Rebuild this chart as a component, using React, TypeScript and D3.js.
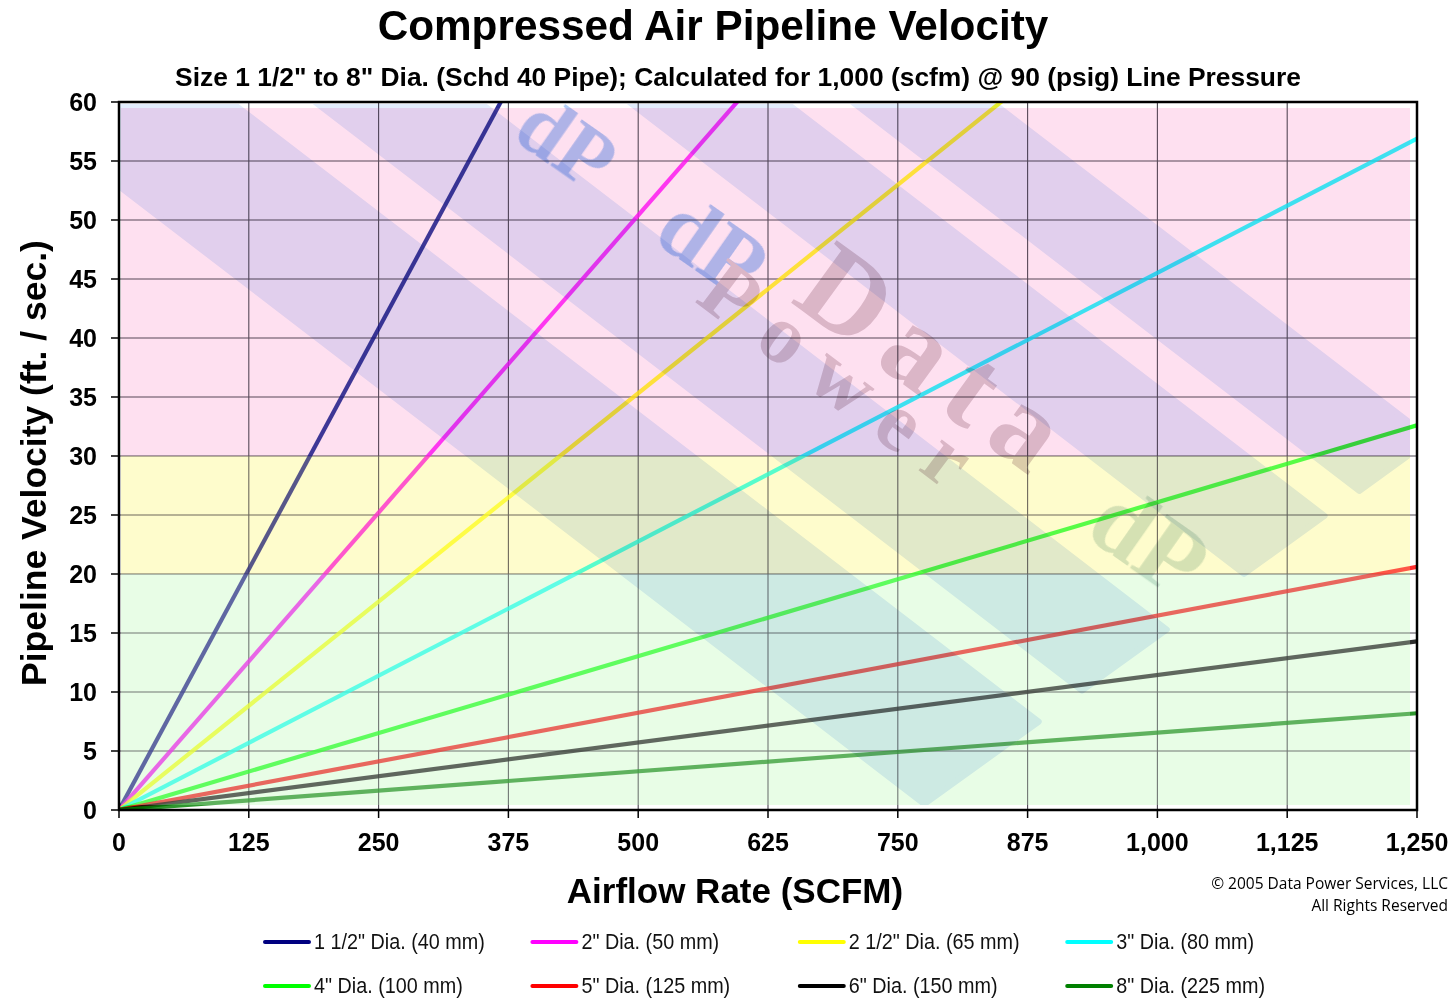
import * as d3 from "d3";

// airflow range shared by every pipe size (scfm)
const airflowScfm = [0, 1250];
// pipeline velocity (ft/sec) at each airflow point
const velocity1_5 = [0, 204];
const velocity2 = [0, 126];
const velocity2_5 = [0, 88.3];
const velocity3 = [0, 56.9];
const velocity4 = [0, 32.6];
const velocity5 = [0, 20.6];
const velocity6 = [0, 14.3];
const velocity8 = [0, 8.2];

const seriesNames = [
  '1 1/2" Dia. (40 mm)',
  '2" Dia. (50 mm)',
  '2 1/2" Dia. (65 mm)',
  '3" Dia. (80 mm)',
  '4" Dia. (100 mm)',
  '5" Dia. (125 mm)',
  '6" Dia. (150 mm)',
  '8" Dia. (225 mm)',
];
const seriesValues = [
  velocity1_5,
  velocity2,
  velocity2_5,
  velocity3,
  velocity4,
  velocity5,
  velocity6,
  velocity8,
];
const seriesColors = [
  "#000080",
  "#ff00ff",
  "#ffff00",
  "#00ffff",
  "#00ff00",
  "#ff0000",
  "#000000",
  "#008000",
];

const xTickValues = [0, 125, 250, 375, 500, 625, 750, 875, 1000, 1125, 1250];
const yTickValues = [0, 5, 10, 15, 20, 25, 30, 35, 40, 45, 50, 55, 60];

// velocity zones: good / marginal / too fast
const zoneLimits = [
  [0, 20],
  [20, 30],
  [30, 60],
];
const zoneColors = ["#e8fde6", "#fefccc", "#fee0f0"];
// how much each zone washes out the lines under it
const zoneWash = [0.28, 0.2, 0.08];

const W = 1456;
const H = 999;
const MARGINS = { top: 102, right: 39, bottom: 189, left: 119 };

const FONT = "'Liberation Sans', Arial, Helvetica, sans-serif";

// watermark stripe layout (decoration only)
const STRIPE_ANGLE = 37.5;
const STRIPES = [
  { cx: 128, w: 135 },
  { cx: 405, w: 100 },
  { cx: 715, w: 95 },
  { cx: 930, w: 85 },
];

function stripePolygon(cx: number, cy: number, w: number) {
  const th = (STRIPE_ANGLE * Math.PI) / 180;
  const u = [Math.cos(th), Math.sin(th)];
  const n = [-Math.sin(th), Math.cos(th)];
  // watermark's lower-right boundary
  const m = [0.72, 1];
  const mq = m[0] * 930 + m[1] * 800;
  const edge = (s: number) => {
    const a = [cx + s * (w / 2) * n[0], cy + s * (w / 2) * n[1]];
    const t = (mq - (m[0] * a[0] + m[1] * a[1])) / (m[0] * u[0] + m[1] * u[1]);
    return {
      far: [a[0] - 1500 * u[0], a[1] - 1500 * u[1]],
      end: [a[0] + t * u[0], a[1] + t * u[1]],
    };
  };
  const e1 = edge(-1);
  const e2 = edge(1);
  return [e1.far, e1.end, e2.end, e2.far].map((p) => p.join(",")).join(" ");
}

export default function App() {
  const x = d3
    .scaleLinear()
    .domain([airflowScfm[0], airflowScfm[1]])
    .range([MARGINS.left, W - MARGINS.right]);
  const y = d3
    .scaleLinear()
    .domain([0, 60])
    .range([H - MARGINS.bottom, MARGINS.top]);
  const line = d3
    .line<number[]>()
    .x((d) => x(d[0]))
    .y((d) => y(d[1]));
  const fmt = d3.format(",");

  const x0 = x(0);
  const x1 = x(1250);
  const y0 = y(0);
  const y1 = y(60);

  // shaded area sits slightly inside the frame
  const bandLeft = x0 + 2;
  const bandRight = x1 - 7;
  const bandTop = y1 + 6;
  const bandBottom = y0 - 5;

  const zoneRect = (lo: number, hi: number) => ({
    x: bandLeft,
    y: Math.max(y(hi), bandTop),
    width: bandRight - bandLeft,
    height: Math.min(y(lo), bandBottom) - Math.max(y(hi), bandTop),
  });

  return (
    <svg
      width={W}
      height={H}
      style={{ position: "absolute", left: 0, top: 0, background: "#fff" }}
    >
      <defs>
        <clipPath id="plot-clip">
          <rect x={x0} y={y1} width={x1 - x0} height={y0 - y1} />
        </clipPath>
        <clipPath id="band-clip">
          <rect
            x={bandLeft - 2}
            y={bandTop - 4}
            width={bandRight - bandLeft + 2}
            height={bandBottom - bandTop + 4}
          />
        </clipPath>
      </defs>

      <rect x={0} y={0} width={W} height={H} fill="#fff" />

      {/* title */}
      <text
        x={713}
        y={40}
        textAnchor="middle"
        fontFamily={FONT}
        fontWeight="bold"
        fontSize={42.3}
      >
        Compressed Air Pipeline Velocity
      </text>
      <text
        x={738}
        y={86}
        textAnchor="middle"
        fontFamily={FONT}
        fontWeight="bold"
        fontSize={26.4}
      >
        Size 1 1/2" to 8" Dia. (Schd 40 Pipe); Calculated for 1,000 (scfm) @
        90 (psig) Line Pressure
      </text>

      {/* grid */}
      <g stroke="#4a4450" strokeWidth={1.1}>
        {yTickValues.slice(1, -1).map((v) => (
          <line key={"gy" + v} x1={x0} x2={x1} y1={y(v)} y2={y(v)} />
        ))}
        {xTickValues.slice(1, -1).map((v) => (
          <line key={"gx" + v} x1={x(v)} x2={x(v)} y1={y1} y2={y0} />
        ))}
      </g>

      {/* series */}
      <g clipPath="url(#plot-clip)">
        {seriesValues.map((vals, i) => (
          <path
            key={seriesNames[i]}
            d={line(airflowScfm.map((a, k) => [a, vals[k]])) || ""}
            fill="none"
            stroke={seriesColors[i]}
            strokeOpacity={0.82}
            strokeWidth={4.2}
          />
        ))}
      </g>

      {/* zones: light wash, then tint multiplied over the lines */}
      {zoneLimits.map(([lo, hi], i) => (
        <rect
          key={"w" + i}
          {...zoneRect(lo, hi)}
          fill="#fff"
          fillOpacity={zoneWash[i]}
        />
      ))}
      {zoneLimits.map(([lo, hi], i) => (
        <rect
          key={"z" + i}
          {...zoneRect(lo, hi)}
          fill={zoneColors[i]}
          style={{ mixBlendMode: "multiply" }}
        />
      ))}

      {/* watermark stripes */}
      <g clipPath="url(#band-clip)" style={{ mixBlendMode: "multiply" }}>
        {STRIPES.map((s, i) => (
          <polygon
            key={"s" + i}
            points={stripePolygon(s.cx, y1 + 6, s.w)}
            fill="#e2ecfc"
            stroke="#e2ecfc"
            strokeWidth={6}
            strokeLinejoin="round"
          />
        ))}
      </g>

      {/* watermark logo text */}
      <g
        clipPath="url(#band-clip)"
        style={{ mixBlendMode: "multiply" }}
        fontFamily="'Liberation Serif', 'DejaVu Serif', serif"
        fontWeight="bold"
      >
        <text
          transform="translate(567,142) rotate(35)"
          textAnchor="middle"
          dominantBaseline="central"
          fontSize={84}
          fill="#b0ccf6"
        >
          dP
        </text>
        <text
          transform="translate(713,245) rotate(35)"
          textAnchor="middle"
          dominantBaseline="central"
          fontSize={92}
          fill="#b0ccf6"
        >
          dP
        </text>
        <text
          transform="translate(940,362) rotate(36)"
          textAnchor="middle"
          dominantBaseline="central"
          fontSize={118}
          letterSpacing={18}
          fill="#dccfd4"
        >
          Data
        </text>
        <text
          transform="translate(846,380) rotate(37)"
          textAnchor="middle"
          dominantBaseline="central"
          fontSize={84}
          letterSpacing={22}
          fill="#dccfd4"
        >
          Power
        </text>
        <text
          transform="translate(1150,540) rotate(35)"
          textAnchor="middle"
          dominantBaseline="central"
          fontSize={100}
          fill="#d6e4e0"
        >
          dP
        </text>
      </g>

      {/* frame */}
      <rect
        x={x0}
        y={y1}
        width={x1 - x0}
        height={y0 - y1}
        fill="none"
        stroke="#000"
        strokeWidth={2.5}
      />

      {/* axis ticks and labels */}
      <g fontFamily={FONT} fontWeight="bold" fontSize={25}>
        {yTickValues.map((v) => (
          <g key={"yt" + v}>
            <line x1={x0 - 8} x2={x0} y1={y(v)} y2={y(v)} stroke="#000" strokeWidth={1.5} />
            <text x={x0 - 22} y={y(v)} textAnchor="end" dominantBaseline="central">
              {v}
            </text>
          </g>
        ))}
        {xTickValues.map((v) => (
          <g key={"xt" + v}>
            <line x1={x(v)} x2={x(v)} y1={y0} y2={y0 + 8} stroke="#000" strokeWidth={1.5} />
            <text x={x(v)} y={851} textAnchor="middle">
              {fmt(v)}
            </text>
          </g>
        ))}
      </g>

      {/* axis titles */}
      <text
        transform={`translate(46, ${(y0 + y1) / 2 + 7}) rotate(-90)`}
        textAnchor="middle"
        fontFamily={FONT}
        fontWeight="bold"
        fontSize={35.5}
      >
        Pipeline Velocity (ft. / sec.)
      </text>
      <text
        x={735}
        y={903}
        textAnchor="middle"
        fontFamily={FONT}
        fontWeight="bold"
        fontSize={35}
      >
        Airflow Rate (SCFM)
      </text>

      {/* copyright */}
      <g fontFamily="'Open Sans', 'Noto Sans', sans-serif" fontSize={15.5} textAnchor="end">
        <text x={1448} y={889}>© 2005 Data Power Services, LLC</text>
        <text x={1448} y={911}>All Rights Reserved</text>
      </g>

      {/* legend */}
      <g fontFamily={FONT}>
        {seriesNames.map((name, i) => {
          const col = i % 4;
          const row = Math.floor(i / 4);
          const lx = 265 + col * 267.4;
          const ly = 942 + row * 44;
          return (
            <g key={"lg" + i}>
              <line
                x1={lx}
                x2={lx + 44}
                y1={ly}
                y2={ly}
                stroke={seriesColors[i]}
                strokeWidth={4}
                strokeLinecap="round"
              />
              <text
                transform={`translate(${lx + 49}, ${ly + 7}) scale(0.9, 1)`}
                fontSize={22}
                fill="#111"
              >
                {name}
              </text>
            </g>
          );
        })}
      </g>
    </svg>
  );
}
